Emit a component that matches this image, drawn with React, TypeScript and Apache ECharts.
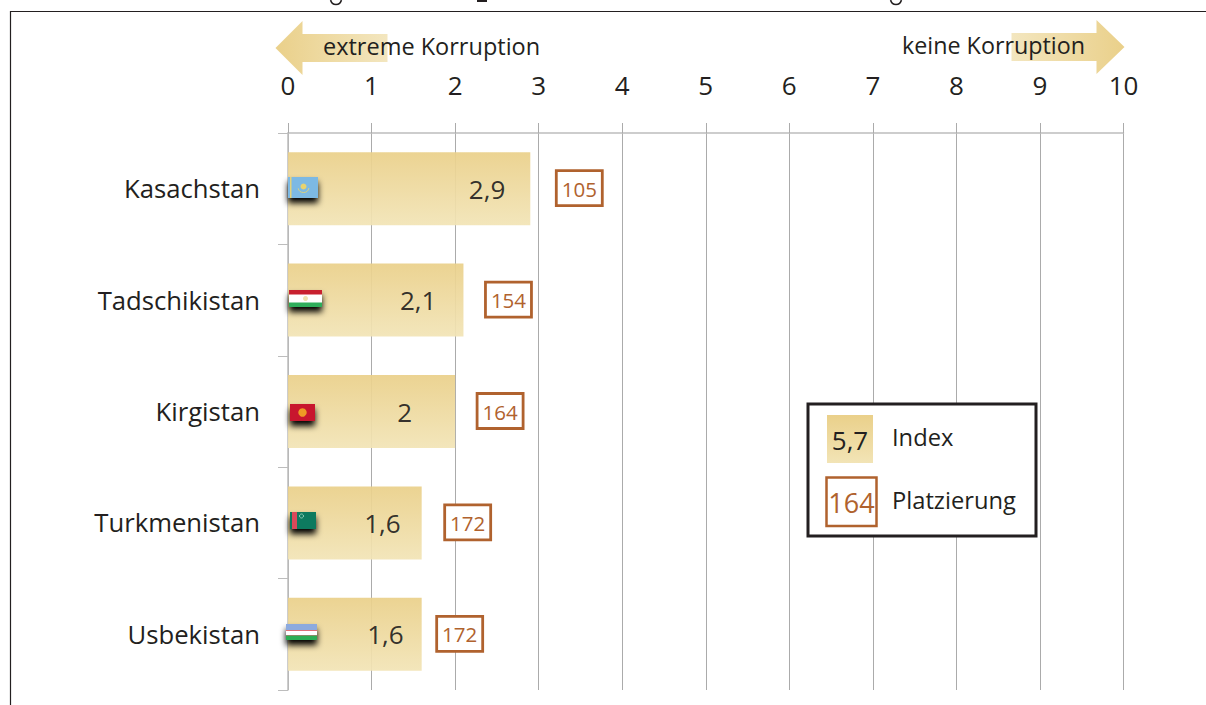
import React, { useEffect, useRef } from "react";
import * as echarts from "echarts";

const countries = ["Kasachstan", "Tadschikistan", "Kirgistan", "Turkmenistan", "Usbekistan"];
const indexValues = [2.9, 2.1, 2, 1.6, 1.6];
const ranks = [105, 154, 164, 172, 172];
const axisTicks = [0, 1, 2, 3, 4, 5, 6, 7, 8, 9, 10];

const FONT = "Open Sans";
const INK = "#231F20";
const RUST = "#B0622E";
const GOLD_TOP = "#EAD08A";
const GOLD_BOTTOM = "#F2E4B6";

// pixel nudges relative to the end of each bar, as laid out in the original
const rankGap = [49, 45, 45, 46, 38];
const labelInset = [25, 27, 43, 21, 18];

const vGrad = () => new echarts.graphic.LinearGradient(0, 0, 0, 1, [
  { offset: 0, color: GOLD_TOP },
  { offset: 1, color: GOLD_BOTTOM },
]);

const hGrad = (reverse: boolean) => new echarts.graphic.LinearGradient(0, 0, 1, 0, [
  { offset: 0, color: reverse ? "#F3E6BF" : GOLD_TOP },
  { offset: 1, color: reverse ? GOLD_TOP : "#F3E6BF" },
]);

const Z = 100;
const shadow = { shadowBlur: 6, shadowColor: "#000", shadowOffsetY: 5 };
const rect = (x: number, y: number, width: number, height: number, fill: any, extra: any = {}) => ({
  type: "rect", z: Z, shape: { x, y, width, height }, style: { fill, ...extra }, silent: true,
});

const text = (x: number, y: number, t: string, size: number, fill = INK, align = "left") => ({
  type: "text", z: Z + 1, x, y, silent: true,
  style: { text: t, fontFamily: FONT, fontSize: size, fill, align, verticalAlign: "middle" },
});

// the descender strokes of the heading that the crop leaves at the very top edge
const descender = (cx: number) => ({
  type: "arc", z: Z, silent: true,
  shape: { cx, cy: -1, r: 5.5, startAngle: 0.2, endAngle: Math.PI - 0.2 },
  style: { stroke: INK, fill: "none", lineWidth: 1.6 },
});

const flags = [
  // Kazakhstan
  rect(288, 177, 30, 21, "#7DB9E3", shadow),
  rect(290, 177, 1.5, 21, "#E3D27A"),
  { type: "circle", z: Z, shape: { cx: 303.5, cy: 186.5, r: 3 }, style: { fill: "#E8D36F" }, silent: true },
  { type: "arc", z: Z, shape: { cx: 303.5, cy: 187, r: 5.5, startAngle: 0.2, endAngle: 2.9 }, style: { stroke: "#D9D27F", fill: "none", lineWidth: 1 }, silent: true },
  // Tajikistan
  rect(289, 290, 33, 17, "#fff", shadow),
  rect(289, 290, 33, 4.5, "#C8202F"),
  rect(289, 302.5, 33, 4.5, "#2EAE5B"),
  { type: "circle", z: Z, shape: { cx: 305.5, cy: 298.5, r: 2.5 }, style: { fill: "#EFE3B0" }, silent: true },
  // Kyrgyzstan
  rect(290, 404, 25, 17, "#C8182F", shadow),
  { type: "circle", z: Z, shape: { cx: 302.5, cy: 412.5, r: 4.2 }, style: { fill: "#EE9A25" }, silent: true },
  // Turkmenistan
  rect(290, 512, 26, 17, "#0F7A5E", shadow),
  rect(292, 512, 5, 17, "#D9495A"),
  { type: "circle", z: Z, shape: { cx: 301.5, cy: 516, r: 2 }, style: { fill: "none", stroke: "#8FCDB8", lineWidth: 1 }, silent: true },
  // Uzbekistan
  rect(286, 624, 31, 16, "#fff", shadow),
  rect(286, 624, 31, 6, "#8CAADF"),
  rect(286, 630, 31, 0.8, "#D84B55"),
  rect(286, 635, 31, 0.8, "#D84B55"),
  rect(286, 635.5, 31, 4.5, "#2CAE54"),
];

const arrows = [
  {
    type: "polygon", z: Z, silent: true,
    shape: { points: [[275.5, 48], [302.5, 21], [302.5, 34], [387.5, 34], [387.5, 62], [302.5, 62], [302.5, 75]] },
    style: { fill: hGrad(false) },
  },
  {
    type: "polygon", z: Z, silent: true,
    shape: { points: [[1124.5, 47], [1096.5, 20], [1096.5, 33], [1011.5, 33], [1011.5, 61], [1096.5, 61], [1096.5, 74]] },
    style: { fill: hGrad(true) },
  },
  text(323, 46, "extreme Korruption", 23.5),
  text(902, 45, "keine Korruption", 23.3),
];

const legend = [
  rect(808, 404, 228, 132, "#fff", { stroke: INK, lineWidth: 3 }),
  rect(827, 415, 46, 48, vGrad()),
  text(850, 440, "5,7", 26, INK, "center"),
  rect(826.5, 477.5, 50, 48.5, "#fff", { stroke: RUST, lineWidth: 2.5 }),
  text(851.5, 502, "164", 27, RUST, "center"),
  text(892, 437, "Index", 23.7),
  text(892, 500, "Platzierung", 23.7),
];

const frame = [
  { type: "polyline", z: Z, silent: true, shape: { points: [[1206, 11.5], [10.5, 11.5], [10.5, 705]] }, style: { stroke: INK, lineWidth: 1.2, fill: "none" } },
  descender(336),
  rect(477, 0, 10, 2, INK),
  descender(896),
];

export default function App() {
  const ref = useRef<HTMLDivElement>(null);
  useEffect(() => {
    const chart = echarts.init(ref.current!, undefined, { renderer: "svg" });
    chart.setOption({
      animation: false,
      backgroundColor: "#fff",
      grid: { left: 288, top: 133, width: 835.5, height: 557, containLabel: false },
      xAxis: {
        type: "value", position: "top", min: 0, max: 10, interval: 1,
        axisLine: { show: true, lineStyle: { color: "#BDBDBD", width: 1.5 } },
        axisTick: { show: true, length: 10, lineStyle: { color: "#ABABAB", width: 1 } },
        axisLabel: {
          margin: 35, fontFamily: FONT, fontSize: 26, color: INK,
          formatter: (v: number) => (axisTicks.includes(v) ? String(v) : ""),
        },
        splitLine: { show: true, lineStyle: { color: "#ABABAB", width: 1 } },
      },
      yAxis: {
        type: "category", inverse: true, data: countries,
        axisLine: { show: true, lineStyle: { color: "#BDBDBD", width: 1.5 } },
        axisTick: { show: true, length: 10, lineStyle: { color: "#BDBDBD", width: 1 } },
        axisLabel: { margin: 28, fontFamily: FONT, fontSize: 25.7, color: INK, padding: [0, 0, 4, 0] },
      },
      series: [
        {
          type: "bar", barWidth: 73,
          data: indexValues.map((v, i) => ({
            value: v,
            label: { distance: labelInset[i] },
          })),
          itemStyle: { color: vGrad(), opacity: 0.93 },
          label: {
            show: true, position: "insideRight", fontFamily: FONT, fontSize: 26, color: INK,
            formatter: (p: any) => String(p.value).replace(".", ","),
          },
        },
        {
          type: "custom", coordinateSystem: "cartesian2d", silent: true, z: 5,
          data: indexValues.map((v, i) => [v, i, ranks[i]]),
          encode: { x: 0, y: 1 },
          renderItem: (params: any, api: any) => {
            const p = api.coord([api.value(0), api.value(1)]);
            const cx = p[0] + rankGap[params.dataIndex];
            const cy = p[1];
            return {
              type: "group",
              children: [
                {
                  type: "rect", shape: { x: cx - 23, y: cy - 18, width: 46, height: 35 },
                  style: { fill: "#fff", stroke: RUST, lineWidth: 2.8 },
                },
                {
                  type: "text", x: cx, y: cy,
                  style: {
                    text: String(api.value(2)), fontFamily: FONT, fontSize: 20.5, fill: RUST,
                    align: "center", verticalAlign: "middle",
                  },
                },
              ],
            };
          },
        },
      ],
      graphic: { elements: [...frame, ...arrows, ...flags, ...legend] },
    });
    return () => chart.dispose();
  }, []);
  return <div ref={ref} style={{ position: "absolute", left: 0, top: 0, width: 1206, height: 705 }} />;
}
